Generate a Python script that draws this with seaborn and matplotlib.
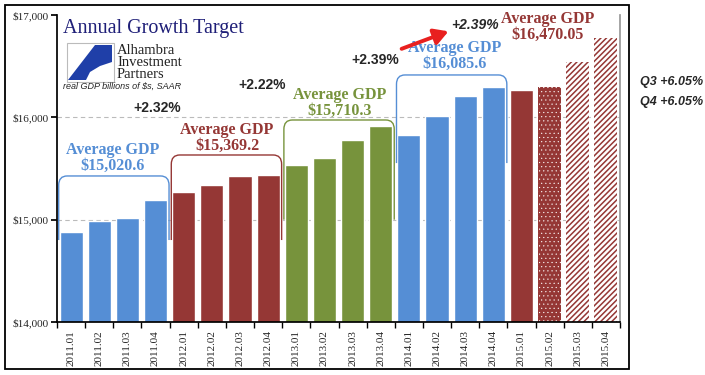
# plot.py - annual real GDP growth target chart

import numpy as np
import pandas as pd
import seaborn as sns
import matplotlib.pyplot as plt
from matplotlib.path import Path
from matplotlib.patches import PathPatch, Rectangle, Polygon

# --------------------------------------------
# DATA
# --------------------------------------------

quarters = ["2011.01", "2011.02", "2011.03", "2011.04",
            "2012.01", "2012.02", "2012.03", "2012.04",
            "2013.01", "2013.02", "2013.03", "2013.04",
            "2014.01", "2014.02", "2014.03", "2014.04",
            "2015.01", "2015.02", "2015.03", "2015.04"]
gdp = [14881, 14990, 15021, 15190,
       15275, 15340, 15428, 15434,
       15538, 15606, 15779, 15918,
       15832, 16010, 16205, 16296,
       16264, 16300, 16540, 16776]
group_colors = ["#558ED5", "#953735", "#77933C", "#558ED5", "#953735"]
group_labels = ["Average GDP\n$15,020.6", "Average GDP\n$15,369.2",
                "Average GDP\n$15,710.3", "Average GDP\n$16,085.6",
                "Average GDP\n$16,470.05"]
growth_labels = ["+2.32%", "+2.22%", "+2.39%"]
yticks = [14000, 15000, 16000, 17000]

df = pd.DataFrame({"quarter": quarters, "gdp": gdp})
bar_colors = [group_colors[i // 4] for i in range(len(quarters))]

# --------------------------------------------
# STYLE
# --------------------------------------------

sns.set_theme(style="white")
plt.rcParams["font.family"] = ["Liberation Serif", "DejaVu Serif"]
plt.rcParams["hatch.linewidth"] = 1.1

fig = plt.figure(figsize=(7.05, 3.75), dpi=100)
ax = fig.add_axes([57 / 705, 1 - 322 / 375, (620 - 57) / 705, (322 - 15) / 375])

sns.barplot(data=df, x="quarter", y="gdp", hue="quarter",
            palette=bar_colors, legend=False, width=0.82, saturation=1, ax=ax)

# 2015 Q2 dotted, Q3/Q4 striped (forecasts)
red = group_colors[4]
p = ax.patches
p[17].set_facecolor(red)
p[17].set_edgecolor("white")
p[17].set_hatch("....")
p[17].set_linewidth(0)
if hasattr(p[17], "set_hatch_linewidth"):
    p[17].set_hatch_linewidth(0.3)
for k in (18, 19):
    p[k].set_facecolor("white")
    p[k].set_edgecolor(red)
    p[k].set_hatch("//////")
    p[k].set_linewidth(0)

ax.set_ylim(14000, 17000)
ax.set_xlim(-0.5, len(quarters) - 0.5)
ax.set_yticks(yticks)
ax.set_yticklabels(["${:,}".format(v) for v in yticks], fontsize=8)
ax.set_xticks(range(len(quarters)))
ax.set_xticklabels(quarters, rotation=90, fontsize=8)
ax.set_xticks(np.arange(-0.5, len(quarters), 1), minor=True)
ax.tick_params(axis="x", which="major", length=0, pad=6)
ax.tick_params(axis="x", which="minor", length=4, color="black", direction="out", bottom=True)
ax.tick_params(axis="y", length=4, color="black", direction="out", left=True, pad=2)
ax.set_xlabel("")
ax.set_ylabel("")

for v in (15000, 16000):
    ax.axhline(v, color="#BBBBBB", lw=0.8, ls=(0, (4, 3)), zorder=0)

ax.spines["top"].set_visible(False)
ax.spines["right"].set_color("#999999")
ax.spines["left"].set_color("black")
ax.spines["bottom"].set_color("black")

# --------------------------------------------
# brackets + average labels
# --------------------------------------------

bracket_top = [15427, 15632, 15974, 16414]
bracket_bot = [14801, 14801, 15000, 15553]
label_pos = [(1.49, 15603), (5.54, 15798), (9.55, 16140), (13.64, 16599), (16.94, 16883)]

for g in range(4):
    x0 = g * 4 - 0.44
    x1 = g * 4 + 3 + 0.48
    top, bot = bracket_top[g], bracket_bot[g]
    rx, ry = 0.3, 90
    verts = [(x0, bot), (x0, top - ry), (x0, top), (x0 + rx, top),
             (x1 - rx, top), (x1, top), (x1, top - ry), (x1, bot)]
    codes = [Path.MOVETO, Path.LINETO, Path.CURVE3, Path.CURVE3,
             Path.LINETO, Path.CURVE3, Path.CURVE3, Path.LINETO]
    ax.add_patch(PathPatch(Path(verts, codes), fill=False,
                           edgecolor=group_colors[g], lw=1.0, zorder=3))

for g, (lx, ly) in enumerate(label_pos):
    ax.text(lx, ly, group_labels[g], ha="center", va="center",
            fontsize=11.5, fontweight="bold", color=group_colors[g],
            linespacing=1.0, clip_on=False)

# growth annotations
sans = ["Liberation Sans", "DejaVu Sans"]
ax.text(3.05, 16091, growth_labels[0], ha="center", va="center",
        fontsize=10, fontweight="bold", family=sans)
ax.text(6.78, 16316, growth_labels[1], ha="center", va="center",
        fontsize=10, fontweight="bold", family=sans)
ax.text(10.8, 16560, growth_labels[2], ha="center", va="center",
        fontsize=10, fontweight="bold", family=sans)
ax.text(14.35, 16902, growth_labels[2], ha="center", va="center",
        fontsize=10, fontweight="bold", style="italic", family=sans)
ax.annotate("", xy=(13.5, 16850), xytext=(11.65, 16660),
            arrowprops=dict(arrowstyle="-|>,head_length=0.7,head_width=0.4",
                            color="#E8201F", lw=2.8))

# --------------------------------------------
# title, logo, notes
# --------------------------------------------

fig.text(63 / 705, 1 - 28 / 375, "Annual Growth Target", fontsize=14.5,
         color="#1F1F78", va="center", ha="left")

# logo box
fig.patches.append(Rectangle((67 / 705, 1 - 82 / 375), 47 / 705, 39 / 375,
                             transform=fig.transFigure, fill=False,
                             edgecolor="#BBBBBB", lw=0.8))
logo_pts = [(95, 45), (112, 45), (112, 62), (100, 66), (90, 72),
            (86, 80), (68, 80)]
fig.patches.append(Polygon([(x / 705, 1 - y / 375) for x, y in logo_pts],
                           closed=True, transform=fig.transFigure,
                           facecolor="#1F3FA8", edgecolor="none"))
for i, word in enumerate(["Alhambra", "Investment", "Partners"]):
    fig.text(117 / 705, 1 - (50 + 12 * i) / 375, word, fontsize=10.5,
             color="#222222", va="center", ha="left")

fig.text(63 / 705, 1 - 86 / 375, "real GDP billions of $s, SAAR", fontsize=6.5,
         style="italic", va="center", ha="left", family=sans)

fig.text(640 / 705, 1 - 82 / 375, "Q3 +6.05%", fontsize=9, fontweight="bold",
         style="italic", va="center", ha="left", family=sans)
fig.text(640 / 705, 1 - 102 / 375, "Q4 +6.05%", fontsize=9, fontweight="bold",
         style="italic", va="center", ha="left", family=sans)

# outer frame
fig.patches.append(Rectangle((5 / 705, 1 - 369 / 375), 624 / 705, 364 / 375,
                             transform=fig.transFigure, fill=False,
                             edgecolor="black", lw=1.3, zorder=-1))

fig.savefig("out.png", dpi=100)
